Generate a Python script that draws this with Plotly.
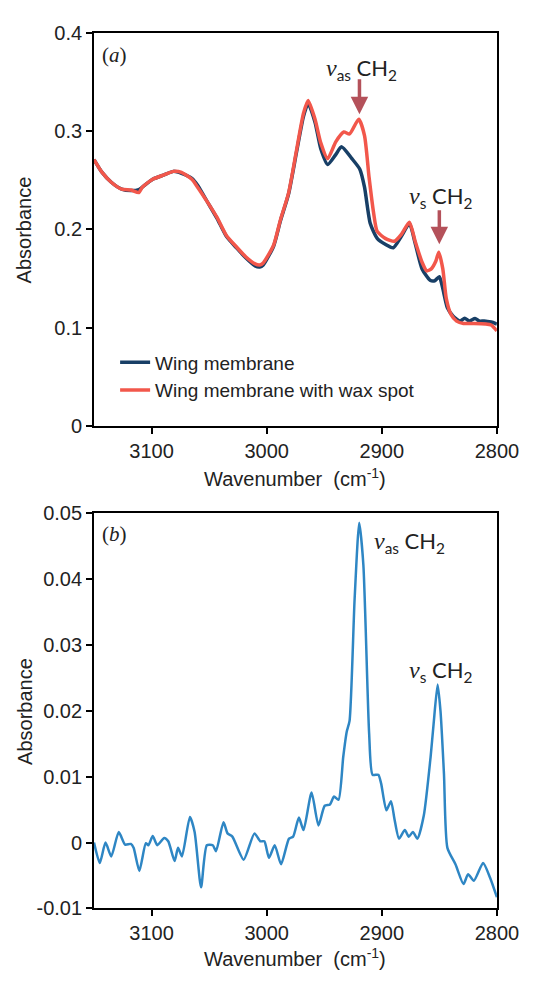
import plotly.graph_objects as go

# ---------------- data (a) ----------------
wn_membrane = [3150, 3143, 3135, 3126, 3118, 3111, 3108, 3099, 3089, 3081, 3074, 3065, 3060, 3051,
               3043, 3035, 3026, 3018, 3010, 3006, 3003, 2994, 2988, 2981, 2974, 2968, 2964, 2958,
               2953, 2947, 2940, 2935, 2926, 2919, 2915, 2910, 2904, 2897, 2890, 2883, 2876, 2871,
               2865, 2858, 2854, 2850, 2847, 2843, 2838, 2832, 2828, 2824, 2819, 2815, 2811, 2805, 2800]
abs_membrane = [0.271, 0.258, 0.248, 0.241, 0.2395, 0.2405, 0.243, 0.251, 0.2555, 0.259, 0.257, 0.252,
                0.245, 0.227, 0.211, 0.193, 0.181, 0.171, 0.163, 0.162, 0.164, 0.183, 0.209, 0.236,
                0.279, 0.315, 0.328, 0.309, 0.282, 0.266, 0.276, 0.284, 0.272, 0.261, 0.243, 0.206,
                0.191, 0.185, 0.1815, 0.193, 0.206, 0.186, 0.160, 0.1485, 0.148, 0.152, 0.140, 0.1205,
                0.112, 0.107, 0.110, 0.107, 0.1096, 0.107, 0.1072, 0.106, 0.104]

wn_wax = [3150, 3143, 3135, 3126, 3118, 3111, 3108, 3099, 3089, 3081, 3074, 3065, 3060, 3051, 3043,
          3035, 3026, 3018, 3010, 3006, 3003, 2994, 2988, 2981, 2974, 2968, 2964, 2958, 2953, 2947,
          2940, 2933, 2928, 2920, 2915, 2911, 2907, 2904, 2897, 2889, 2883, 2876, 2871, 2865, 2861,
          2857, 2853, 2850.5, 2847, 2844, 2840, 2835, 2829, 2820, 2810, 2805, 2800]
abs_wax = [0.271, 0.258, 0.248, 0.241, 0.240, 0.2375, 0.243, 0.251, 0.2555, 0.259, 0.258, 0.251,
           0.243, 0.227, 0.212, 0.194, 0.182, 0.172, 0.165, 0.164, 0.166, 0.184, 0.210, 0.237,
           0.281, 0.318, 0.331, 0.312, 0.288, 0.272, 0.289, 0.299, 0.297, 0.312, 0.2954, 0.2525,
           0.216, 0.198, 0.191, 0.188, 0.195, 0.2074, 0.188, 0.1667, 0.158, 0.160, 0.168, 0.177,
           0.160, 0.130, 0.114, 0.107, 0.1046, 0.1045, 0.104, 0.103, 0.097]

# ---------------- data (b) ----------------
wn_diff = [3150, 3145, 3140, 3135, 3128.5, 3123, 3118, 3115.6, 3110.6, 3105, 3102.7, 3099, 3095, 3089,
           3085.5, 3080, 3077, 3073.6, 3066.7, 3062.6, 3057, 3052, 3046.8, 3044, 3037.5, 3034, 3029.8,
           3020, 3010.6, 3005.5, 3002, 2998, 2993, 2987.5, 2980.6, 2977, 2972, 2968, 2961, 2955,
           2949.6, 2945, 2941.5, 2937.6, 2933.5, 2930.5, 2928, 2923.6, 2919.6, 2916, 2911, 2908, 2903,
           2900.6, 2896, 2892, 2889, 2885, 2880, 2876.5, 2873, 2869, 2863.5, 2857.6, 2855, 2851.5,
           2849, 2846, 2843, 2836, 2829, 2825, 2820, 2812, 2806, 2800]
abs_diff = [0.0, -0.0031, 0.0, -0.0021, 0.0016, -0.0003, -0.0002, -0.0008, -0.0043, -0.0001, -0.0004,
            0.001, -0.0004, 0.0007, 0.0002, -0.0028, -0.0008, -0.0021, 0.0039, 0.0016, -0.0068, -0.0004,
            -0.0004, -0.0013, 0.0031, 0.0014, 0.0009, -0.0026, 0.0014, 0.0002, 0.0002, -0.0023, -0.0004,
            -0.0033, 0.0006, 0.0009, 0.0038, 0.0019, 0.0076, 0.0026, 0.0056, 0.0058, 0.007, 0.0065,
            0.013, 0.0168, 0.0185, 0.037, 0.0486, 0.0422, 0.0166, 0.0103, 0.0103, 0.009, 0.0049, 0.0063,
            0.0036, 0.0006, 0.0019, 0.0009, 0.0016, 0.0006, 0.0041, 0.013, 0.018, 0.024, 0.020, 0.0105,
            -0.0008, -0.0033, -0.0063, -0.0048, -0.0058, -0.0031, -0.0053, -0.0083]

x_tickvals = [3100, 3000, 2900, 2800]
x_ticktext = ["3100", "3000", "2900", "2800"]
ya_tickvals = [0, 0.1, 0.2, 0.3, 0.4]
ya_ticktext = ["0", "0.1", "0.2", "0.3", "0.4"]
yb_tickvals = [-0.01, 0, 0.01, 0.02, 0.03, 0.04, 0.05]
yb_ticktext = ["-0.01", "0", "0.01", "0.02", "0.03", "0.04", "0.05"]

series_names = ["Wing membrane", "Wing membrane with wax spot"]

BLUE = "#183F66"
RED = "#F2574B"
LIGHT = "#2E86C4"
ARROW = "#B4515A"
SANS = "Liberation Sans, Arial, sans-serif"
LAB = "Lato, sans-serif"

fig = go.Figure()
fig.add_trace(go.Scatter(x=wn_membrane, y=abs_membrane, mode="lines", name=series_names[0],
                         line=dict(color=BLUE, width=3.5, shape="spline", smoothing=0.6),
                         xaxis="x", yaxis="y", legendgroup="a"))
fig.add_trace(go.Scatter(x=wn_wax, y=abs_wax, mode="lines", name=series_names[1],
                         line=dict(color=RED, width=3.5, shape="spline", smoothing=0.6),
                         xaxis="x", yaxis="y", legendgroup="b"))
fig.add_trace(go.Scatter(x=wn_diff, y=abs_diff, mode="lines", showlegend=False,
                         line=dict(color=LIGHT, width=2.5, shape="spline", smoothing=0.6),
                         xaxis="x2", yaxis="y2"))

W, H = 540, 981
xl, xr = 98, 518
ya_top, ya_bot = 22, 425
yb_top, yb_bot = 514, 918

axis_common = dict(showgrid=False, zeroline=False, showline=True, linecolor="black", linewidth=1.8,
                   mirror=True, ticks="outside", ticklen=6, tickwidth=1.8, tickcolor="black",
                   tickfont=dict(family=SANS, size=20, color="#222"))

fig.update_layout(
    width=W, height=H, margin=dict(l=0, r=0, t=0, b=0),
    paper_bgcolor="white", plot_bgcolor="white",
    xaxis=dict(domain=[xl / W, xr / W], range=[3150, 2800], anchor="y", ticklabeloverflow="allow",
               tickvals=x_tickvals, ticktext=x_ticktext, **axis_common),
    yaxis=dict(domain=[1 - ya_bot / H, 1 - ya_top / H], range=[0, 0.4], anchor="x",
               tickvals=ya_tickvals, ticktext=ya_ticktext, **axis_common),
    xaxis2=dict(domain=[xl / W, xr / W], range=[3150, 2800], anchor="y2", ticklabeloverflow="allow",
                tickvals=x_tickvals, ticktext=x_ticktext, **axis_common),
    yaxis2=dict(domain=[1 - yb_bot / H, 1 - yb_top / H], range=[-0.01, 0.05], anchor="x2",
                tickvals=yb_tickvals, ticktext=yb_ticktext, **axis_common),
    legend=dict(x=120 / W, y=1 - 340 / H, xanchor="left", yanchor="top",
                bgcolor="rgba(0,0,0,0)", font=dict(family=SANS, size=19, color="#222"),
                traceorder="grouped", tracegroupgap=0, itemwidth=30),
    showlegend=True,
)

ann = []
# axis titles
for yc in [(ya_top + ya_bot) / 2, (yb_top + yb_bot) / 2]:
    ann.append(dict(text="Absorbance", x=26 / W, y=1 - yc / H, xref="paper", yref="paper",
                    textangle=-90, showarrow=False, font=dict(family=SANS, size=20, color="#222"),
                    xanchor="center", yanchor="middle"))
for yc in [477, 968]:
    ann.append(dict(text="Wavenumber  (cm<sup>-1</sup>)", x=(xl + xr) / 2 / W, y=1 - yc / H,
                    xref="paper", yref="paper", showarrow=False,
                    font=dict(family=SANS, size=20, color="#222"), xanchor="center", yanchor="middle"))
# panel labels
ann.append(dict(text="(<i>a</i>)", x=119 / W, y=1 - 45 / H, xref="paper", yref="paper",
                showarrow=False, font=dict(family="Liberation Serif, serif", size=21, color="#222"),
                xanchor="center", yanchor="middle"))
ann.append(dict(text="(<i>b</i>)", x=119 / W, y=1 - 535 / H, xref="paper", yref="paper",
                showarrow=False, font=dict(family="Liberation Serif, serif", size=21, color="#222"),
                xanchor="center", yanchor="middle"))

nu = "<span style='font-family:Liberation Serif;font-size:24px'><i>ν</i></span>"
lab_as = nu + "<sub>as</sub> CH<sub>2</sub>"
lab_s = nu + "<sub>s</sub> CH<sub>2</sub>"
# peak labels (a)
ann.append(dict(text=lab_as, x=2917.5, y=0.363, xref="x", yref="y", showarrow=False,
                font=dict(family=LAB, size=22, color="#222"), xanchor="center", yanchor="middle"))
ann.append(dict(text=lab_s, x=2848.6, y=0.233, xref="x", yref="y", showarrow=False,
                font=dict(family=LAB, size=22, color="#222"), xanchor="center", yanchor="middle"))
# arrows (a)
ann.append(dict(x=2919.4, y=0.317, ax=2919.4, ay=0.354, xref="x", yref="y", axref="x", ayref="y",
                showarrow=True, arrowhead=2, arrowsize=1.0, arrowwidth=3.5, arrowcolor=ARROW, text=""))
ann.append(dict(x=2850, y=0.185, ax=2850, ay=0.221, xref="x", yref="y", axref="x", ayref="y",
                showarrow=True, arrowhead=2, arrowsize=1.0, arrowwidth=3.5, arrowcolor=ARROW, text=""))
# peak labels (b)
ann.append(dict(text=lab_as, x=2875.7, y=0.0457, xref="x2", yref="y2", showarrow=False,
                font=dict(family=LAB, size=22, color="#222"), xanchor="center", yanchor="middle"))
ann.append(dict(text=lab_s, x=2849, y=0.0261, xref="x2", yref="y2", showarrow=False,
                font=dict(family=LAB, size=22, color="#222"), xanchor="center", yanchor="middle"))

fig.update_layout(annotations=ann)
fig.write_html("out.html", config={"displayModeBar": False},
               post_script="document.body.style.margin='0px';")
